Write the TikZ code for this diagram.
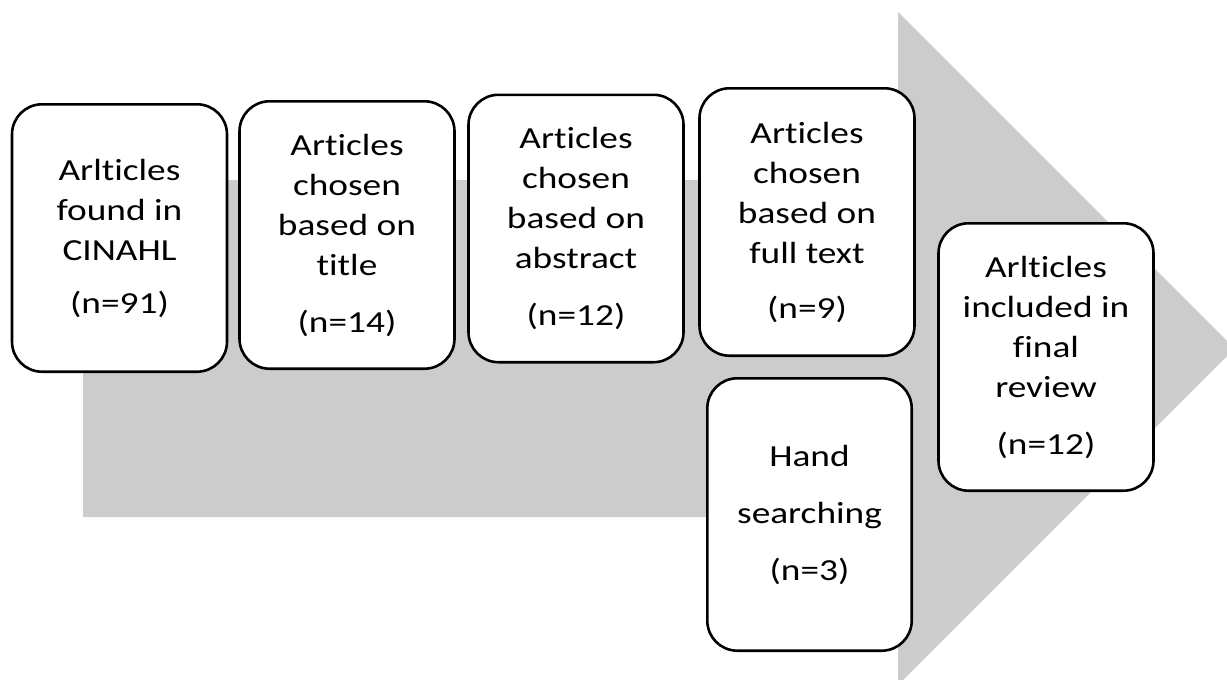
\documentclass[tikz,border=0pt]{standalone}
\usepackage{fontspec}
\setmainfont{Carlito}[FakeStretch=1.22, Ligatures={NoCommon,NoContextual}, Contextuals=NoAlternate]
\definecolor{arrowgrey}{RGB}{204,204,204}
\tikzset{
  stepbox/.style={draw=black, line width=1.3pt, rounded corners=15pt, fill=white,
    align=center, inner sep=0pt, minimum width=107.5pt, minimum height=133.7pt,
    font=\fontsize{15.3}{20}\selectfont},
  bigarrow/.style={fill=arrowgrey, draw=none}
}
\begin{document}
\begin{tikzpicture}[x=0.5pt,y=-0.5pt]
\useasboundingbox (0,0) rectangle (1227,680);
% big grey arrow
\path[bigarrow] (83,180) -- (898,180) -- (898,12) -- (1234.5,348.5) -- (898,685) -- (898,517) -- (83,517) -- cycle;
% boxes
\node[stepbox] (b1) at (119.5,238) {Arlticles\\found in\\CINAHL\\[6.5pt](n=91)};
\node[stepbox] (b2) at (347,235) {Articles\\chosen\\based on\\title\\[8.5pt](n=14)};
\node[stepbox] (b3) at (576,228.5) {Articles\\chosen\\based on\\abstract\\[8.5pt](n=12)};
\node[stepbox] (b4) at (807,222) {Articles\\chosen\\based on\\full text\\[7.5pt](n=9)};
\node[stepbox, minimum width=102.2pt, minimum height=136.2pt] (b5) at (809.5,514.5) {Hand\\[8.5pt]searching\\[8.5pt](n=3)};
\node[stepbox] (b6) at (1046,357) {Arlticles\\included in\\final\\review\\[8.5pt](n=12)};
\end{tikzpicture}
\end{document}
